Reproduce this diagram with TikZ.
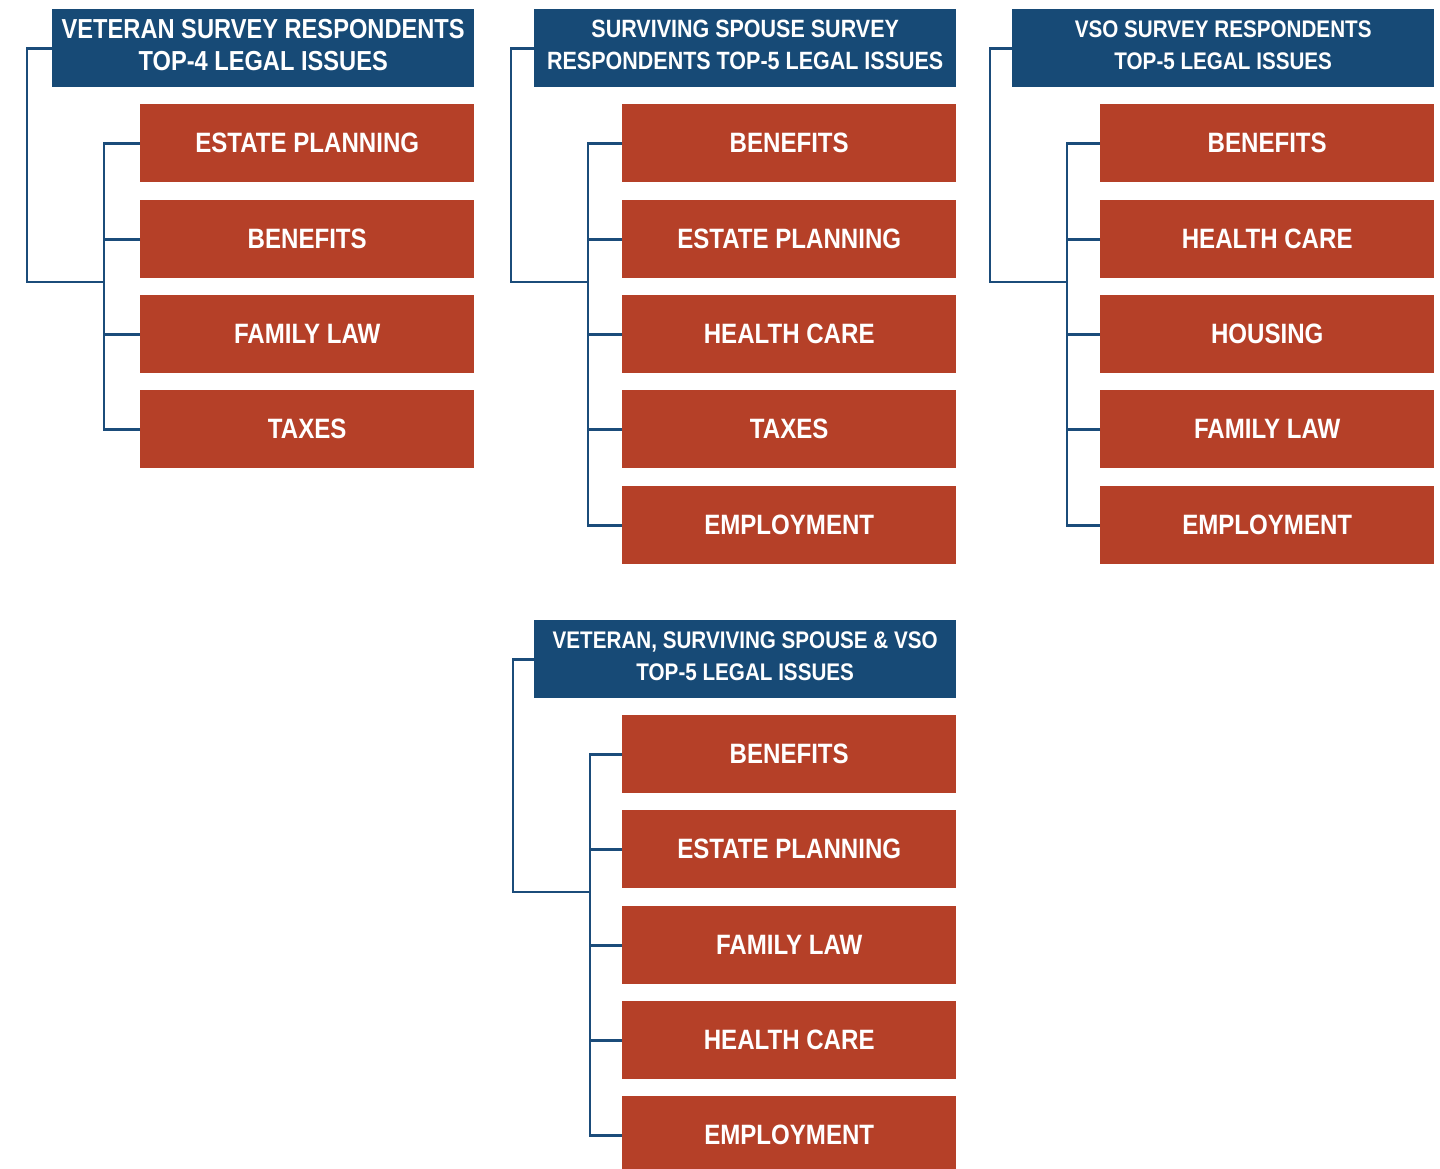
\documentclass[tikz,border=0pt]{standalone}
\usepackage{fontspec}
\setmainfont{Liberation Sans}[FakeStretch=0.86]
\definecolor{hdrblue}{RGB}{23,74,118}
\definecolor{itemred}{RGB}{181,64,40}
\definecolor{linkblue}{RGB}{27,76,122}
\begin{document}
\begin{tikzpicture}[x=1pt,y=-1pt,
  hdr/.style={fill=hdrblue,text=white,minimum width=422pt,minimum height=78pt,inner sep=0pt,
    anchor=north west,align=center,text depth=6pt,font=\bfseries\fontsize{24}{32}\selectfont},
  hdrbig/.style={hdr,font=\bfseries\fontsize{27.5}{32}\selectfont},
  hdrmid/.style={hdr,font=\bfseries\fontsize{25}{32}\selectfont},
  item/.style={fill=itemred,text=white,minimum width=334pt,minimum height=78pt,inner sep=0pt,
    anchor=north west,font=\bfseries\fontsize{28}{32}\selectfont},
  link/.style={draw=linkblue,line width=2.8pt}]
\useasboundingbox (0,0) rectangle (1440,1169);
\clip (0,0) rectangle (1440,1169);

% ---------- Panel 1 ----------
\node[hdrbig] (p1h) at (52,9) {VETERAN SURVEY RESPONDENTS\\TOP-4 LEGAL ISSUES};
\node[item] (p1a) at (140,104) {ESTATE PLANNING};
\node[item] (p1b) at (140,200) {BENEFITS};
\node[item] (p1c) at (140,295) {FAMILY LAW};
\node[item] (p1d) at (140,390) {TAXES};
\coordinate (p1j) at (104,282);
\draw[link] (p1a.west) -- ++(-36,0) |- (p1d.west);
\draw[link] (p1b.west) -- ++(-36,0);
\draw[link] (p1c.west) -- ++(-36,0);
\draw[link] (p1h.west) -- ++(-25,0) |- (p1j);

% ---------- Panel 2 ----------
\node[hdrmid] (p2h) at (534,9) {SURVIVING SPOUSE SURVEY\\RESPONDENTS TOP-5 LEGAL ISSUES};
\node[item] (p2a) at (622,104) {BENEFITS};
\node[item] (p2b) at (622,200) {ESTATE PLANNING};
\node[item] (p2c) at (622,295) {HEALTH CARE};
\node[item] (p2d) at (622,390) {TAXES};
\node[item] (p2e) at (622,486) {EMPLOYMENT};
\coordinate (p2j) at (588,282);
\draw[link] (p2a.west) -- ++(-34,0) |- (p2e.west);
\draw[link] (p2b.west) -- ++(-34,0);
\draw[link] (p2c.west) -- ++(-34,0);
\draw[link] (p2d.west) -- ++(-34,0);
\draw[link] (p2h.west) -- ++(-23,0) |- (p2j);

% ---------- Panel 3 ----------
\node[hdr] (p3h) at (1012,9) {VSO SURVEY RESPONDENTS\\TOP-5 LEGAL ISSUES};
\node[item] (p3a) at (1100,104) {BENEFITS};
\node[item] (p3b) at (1100,200) {HEALTH CARE};
\node[item] (p3c) at (1100,295) {HOUSING};
\node[item] (p3d) at (1100,390) {FAMILY LAW};
\node[item] (p3e) at (1100,486) {EMPLOYMENT};
\coordinate (p3j) at (1067,282);
\draw[link] (p3a.west) -- ++(-33,0) |- (p3e.west);
\draw[link] (p3b.west) -- ++(-33,0);
\draw[link] (p3c.west) -- ++(-33,0);
\draw[link] (p3d.west) -- ++(-33,0);
\draw[link] (p3h.west) -- ++(-22,0) |- (p3j);

% ---------- Panel 4 ----------
\node[hdr] (p4h) at (534,620) {VETERAN, SURVIVING SPOUSE \& VSO\\TOP-5 LEGAL ISSUES};
\node[item] (p4a) at (622,715) {BENEFITS};
\node[item] (p4b) at (622,810) {ESTATE PLANNING};
\node[item] (p4c) at (622,906) {FAMILY LAW};
\node[item] (p4d) at (622,1001) {HEALTH CARE};
\node[item] (p4e) at (622,1096) {EMPLOYMENT};
\coordinate (p4j) at (590,892);
\draw[link] (p4a.west) -- ++(-32,0) |- (p4e.west);
\draw[link] (p4b.west) -- ++(-32,0);
\draw[link] (p4c.west) -- ++(-32,0);
\draw[link] (p4d.west) -- ++(-32,0);
\draw[link] (p4h.west) -- ++(-21,0) |- (p4j);
\end{tikzpicture}
\end{document}
